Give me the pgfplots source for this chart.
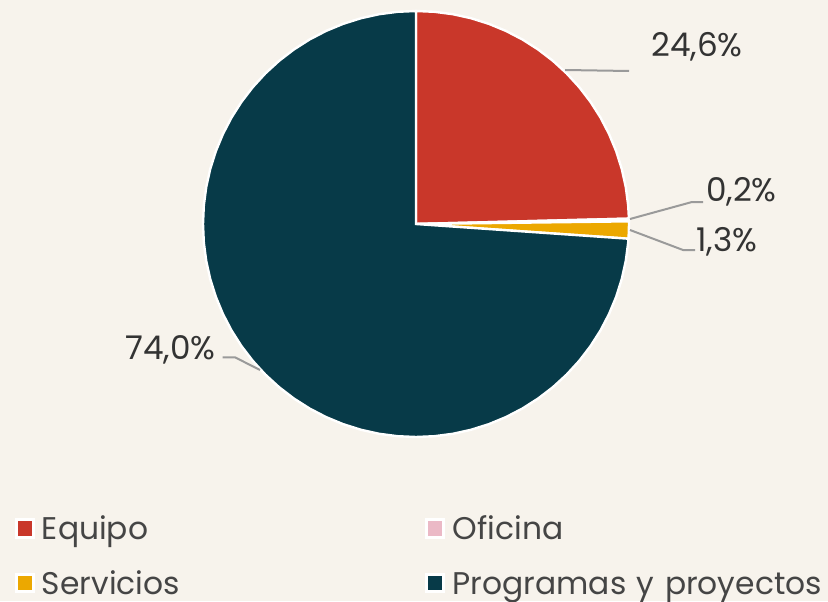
\documentclass[border=0pt]{standalone}
\usepackage{pgfplots}
\pgfplotsset{compat=1.18}
\usepackage{fontspec}
\setmainfont{Poppins}
\definecolor{bg}{HTML}{F7F3EC}
\definecolor{cEq}{HTML}{C9372A}
\definecolor{cOf}{HTML}{EBB9C6}
\definecolor{cSe}{HTML}{ECA800}
\definecolor{cPr}{HTML}{073A48}
\definecolor{lead}{HTML}{9A9A9A}
\definecolor{lbl}{HTML}{333333}
\definecolor{leg}{HTML}{454545}
\begin{document}
\begin{tikzpicture}
\fill[bg] (0,0) rectangle (621pt,450.75pt);
\path[use as bounding box] (0,0) rectangle (621pt,450.75pt);
\begin{axis}[
  at={(0,0)}, anchor=south west,
  hide axis, clip=false,
  x=0.75pt, y=0.75pt,
  xmin=-416, xmax=412, ymin=-377, ymax=224,
  legend columns=2,
  legend image code/.code={\draw[#1,draw=white,line width=2.25pt] (0pt,-6.4pt) rectangle (12.75pt,6.4pt);},
  legend style={
    at={(axis cs:-401.5,-293)}, anchor=north west,
    draw=none, fill=none, inner sep=0pt, outer sep=0pt,
    row sep=23.5pt,
    font=\fontsize{23.5pt}{23.5pt}\selectfont, text=leg,
    nodes={inner sep=0pt, text height=17.2pt, text depth=0pt, text width=280.5pt, align=left},
    /tikz/every odd column/.append style={column sep=5.6pt},
    /tikz/every even column/.append style={column sep=7pt},
  },
  legend cell align=left,
]
% Equipo 24.6%
\addplot[fill=cEq, draw=white, line width=1.8pt, data cs=polar] coordinates {
 (0,0) (90,213) (85,213) (80,213) (75,213) (70,213) (65,213) (60,213) (55,213) (50,213)
 (45,213) (40,213) (35,213) (30,213) (25,213) (20,213) (15,213) (10,213) (5,213) (1.44,213)
} -- cycle;
\addlegendentry{Equipo}
% Oficina 0.2%
\addplot[fill=cOf, draw=white, line width=1.8pt, data cs=polar] coordinates {
 (0,0) (1.44,213) (0.72,213)
} -- cycle;
\addlegendentry{Oficina}
% Servicios 1.3%
\addplot[fill=cSe, draw=white, line width=1.8pt, data cs=polar] coordinates {
 (0,0) (0.72,213) (-1.5,213) (-3.96,213)
} -- cycle;
\addlegendentry{Servicios}
% Programas y proyectos 74.0%
\addplot[fill=cPr, draw=white, line width=1.8pt, data cs=polar] coordinates {
 (0,0) (-3.96,213) (-5,213) (-10,213) (-15,213) (-20,213) (-25,213) (-30,213) (-35,213)
 (-40,213) (-45,213) (-50,213) (-55,213) (-60,213) (-65,213) (-70,213) (-75,213) (-80,213)
 (-85,213) (-90,213) (-95,213) (-100,213) (-105,213) (-110,213) (-115,213) (-120,213)
 (-125,213) (-130,213) (-135,213) (-140,213) (-145,213) (-150,213) (-155,213) (-160,213)
 (-165,213) (-170,213) (-175,213) (-180,213) (-185,213) (-190,213) (-195,213) (-200,213)
 (-205,213) (-210,213) (-215,213) (-220,213) (-225,213) (-230,213) (-235,213) (-240,213)
 (-245,213) (-250,213) (-255,213) (-260,213) (-265,213) (-270,213)
} -- cycle;
\addlegendentry{\mbox{Programas y proyectos}}
% leader lines
\addplot[forget plot, lead, line width=1.5pt] coordinates {(149,154) (213,153)};
\addplot[forget plot, lead, line width=1.5pt] coordinates {(214,5) (276,22) (287,22)};
\addplot[forget plot, lead, line width=1.5pt] coordinates {(214,-6) (267,-26) (279,-26)};
\addplot[forget plot, lead, line width=1.5pt] coordinates {(-156,-146) (-181,-133.3) (-193.3,-133.3)};
% labels
\node[anchor=base, text=lbl, font=\fontsize{24.5pt}{24.5pt}\selectfont, inner sep=0pt] at (axis cs:281,167) {24,6\%};
\node[anchor=base, text=lbl, font=\fontsize{24.5pt}{24.5pt}\selectfont, inner sep=0pt] at (axis cs:325.5,22) {0,2\%};
\node[anchor=base, text=lbl, font=\fontsize{24.5pt}{24.5pt}\selectfont, inner sep=0pt] at (axis cs:311,-27) {1,3\%};
\node[anchor=base, text=lbl, font=\fontsize{24.5pt}{24.5pt}\selectfont, inner sep=0pt] at (axis cs:-245.5,-135.5) {74,0\%};
\end{axis}
\end{tikzpicture}
\end{document}
